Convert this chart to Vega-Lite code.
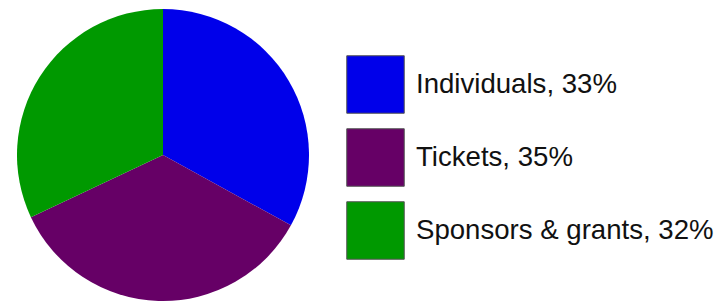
{
  "$schema": "https://vega.github.io/schema/vega-lite/v6.json",
  "width": 326,
  "height": 310,
  "padding": 0,
  "autosize": {"type": "pad"},
  "background": "white",
  "view": {"stroke": null},
  "data": {
    "values": [
      {"source": "Individuals", "share": 33, "rank": 1},
      {"source": "Tickets", "share": 35, "rank": 2},
      {"source": "Sponsors & grants", "share": 32, "rank": 3}
    ]
  },
  "mark": {"type": "arc", "outerRadius": 146, "stroke": null},
  "encoding": {
    "theta": {"field": "share", "type": "quantitative", "stack": true},
    "order": {"field": "rank", "type": "quantitative", "sort": "ascending"},
    "color": {
      "field": "source",
      "type": "nominal",
      "sort": ["Individuals", "Tickets", "Sponsors & grants"],
      "scale": {
        "domain": ["Individuals", "Tickets", "Sponsors & grants"],
        "range": ["#0000EA", "#660066", "#009900"]
      },
      "legend": {
        "title": null,
        "orient": "none",
        "legendX": 346,
        "legendY": 55,
        "symbolType": "square",
        "symbolSize": 3306,
        "symbolStrokeColor": "#555555",
        "symbolStrokeWidth": 1,
        "symbolOpacity": 1,
        "labelFont": "Liberation Sans",
        "labelFontSize": 27.6,
        "labelColor": "#111111",
        "labelOffset": 11,
        "labelLimit": 400,
        "rowPadding": 10,
        "labelExpr": "datum.label == 'Individuals' ? 'Individuals, 33%' : datum.label == 'Tickets' ? 'Tickets, 35%' : 'Sponsors & grants, 32%'"
      }
    }
  }
}
